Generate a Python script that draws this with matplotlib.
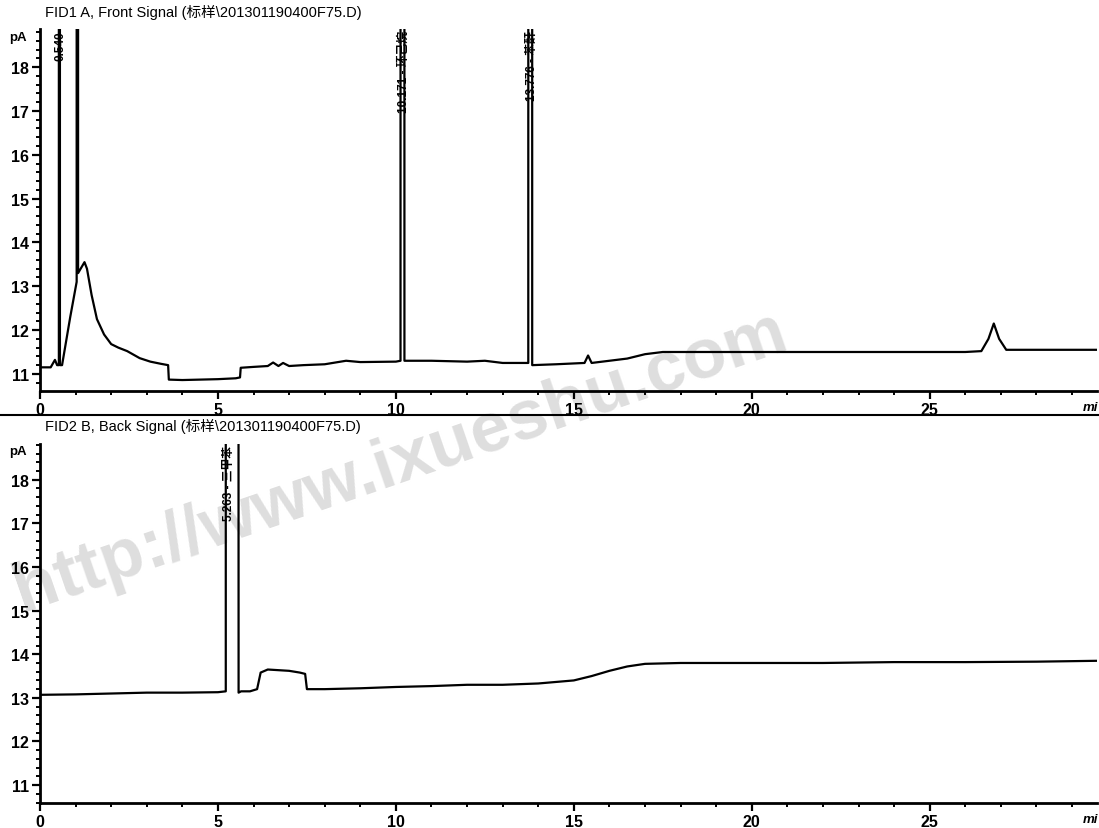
import matplotlib
matplotlib.use("Agg")
import matplotlib.pyplot as plt
from matplotlib.lines import Line2D
from matplotlib.ticker import MultipleLocator

plt.rcParams['font.family'] = ['Liberation Sans', 'Noto Sans CJK SC', 'DejaVu Sans']

# ---------------- data ----------------
title_front = "FID1 A, Front Signal (标样\\201301190400F75.D)"
title_back = "FID2 B, Back Signal (标样\\201301190400F75.D)"

t_front = [0.0, 0.3, 0.42, 0.48, 0.53, 0.54, 0.56, 0.62, 0.85, 1.03, 1.05, 1.07,
           1.25, 1.32, 1.45, 1.6, 1.8, 2.0, 2.2, 2.45, 2.8, 3.1, 3.4, 3.6, 3.62,
           4.0, 4.5, 5.0, 5.5, 5.62, 5.64, 6.0, 6.4, 6.55, 6.7, 6.83, 7.0, 7.4,
           8.0, 8.6, 9.0, 10.0, 10.13, 10.171, 10.24, 10.4, 11.0, 12.0, 12.5,
           13.0, 13.72, 13.776, 13.83, 14.5, 15.3, 15.4, 15.5, 16.0, 16.5, 17.0,
           17.5, 18.0, 20.0, 22.0, 24.0, 26.0, 26.45, 26.65, 26.8, 26.95, 27.15,
           28.0, 29.7]
sig_front = [11.15, 11.15, 11.32, 11.2, 11.2, 1000, 11.2, 11.2, 12.3, 13.1, 1000, 13.3,
             13.55, 13.4, 12.8, 12.25, 11.9, 11.68, 11.6, 11.52, 11.36, 11.28, 11.23, 11.2, 10.87,
             10.86, 10.87, 10.88, 10.9, 10.92, 11.14, 11.16, 11.18, 11.26, 11.18, 11.25, 11.18, 11.2,
             11.22, 11.3, 11.27, 11.28, 11.3, 1000, 11.3, 11.3, 11.3, 11.28, 11.3,
             11.25, 11.25, 1000, 11.2, 11.22, 11.25, 11.42, 11.25, 11.3, 11.35, 11.45,
             11.5, 11.5, 11.5, 11.5, 11.5, 11.5, 11.52, 11.8, 12.15, 11.8, 11.55,
             11.55, 11.55]

t_back = [0.0, 1.0, 2.0, 3.0, 4.0, 5.0, 5.22, 5.263, 5.58, 5.65, 5.9, 6.1, 6.2,
          6.4, 7.0, 7.3, 7.45, 7.5, 8.0, 9.0, 10.0, 11.0, 12.0, 13.0, 14.0, 15.0,
          15.5, 16.0, 16.5, 17.0, 18.0, 20.0, 22.0, 24.0, 26.0, 28.0, 29.7]
sig_back = [13.07, 13.08, 13.1, 13.12, 13.12, 13.13, 13.15, 1000, 13.12, 13.15, 13.15, 13.2, 13.58,
            13.65, 13.62, 13.58, 13.55, 13.2, 13.2, 13.22, 13.25, 13.27, 13.3, 13.3, 13.33, 13.4,
            13.5, 13.62, 13.72, 13.78, 13.8, 13.8, 13.8, 13.82, 13.82, 13.83, 13.85]

labels_front_t = [0.540, 10.171, 13.776]
labels_front = ["0.540", "10.171 - 环己烷", "13.776 - 苯酐"]
labels_back_t = [5.263]
labels_back = ["5.263 - 三甲苯"]

x_major = [0, 5, 10, 15, 20, 25]
y_major = [11, 12, 13, 14, 15, 16, 17, 18]

# ---------------- figure ----------------
W, H = 1099, 829
fig = plt.figure(figsize=(W / 100, H / 100), dpi=100)

def px(x0, y0, x1, y1):
    return [x0 / W, 1 - y1 / H, (x1 - x0) / W, (y1 - y0) / H]

ax1 = fig.add_axes(px(40, 30, 1097, 392))
ax2 = fig.add_axes(px(40, 445, 1097, 804))

def style(ax, ylim):
    ax.set_facecolor('none')
    ax.set_xlim(0, 29.7)
    ax.set_ylim(*ylim)
    for s in ('top', 'right'):
        ax.spines[s].set_visible(False)
    for s in ('left', 'bottom'):
        ax.spines[s].set_linewidth(2)
    ax.set_xticks(x_major)
    ax.set_yticks(y_major)
    ax.xaxis.set_minor_locator(MultipleLocator(1))
    ax.yaxis.set_minor_locator(MultipleLocator(0.2))
    ax.tick_params(axis='both', which='major', length=6, width=1.6,
                   labelsize=11.5, pad=2)
    ax.tick_params(axis='both', which='minor', length=3, width=1.4)
    for lab in ax.get_xticklabels() + ax.get_yticklabels():
        lab.set_fontweight('bold')

style(ax1, (10.61, 18.87))
style(ax2, (10.59, 18.82))

ax1.plot(t_front, sig_front, color='black', lw=1.6)
ax2.plot(t_back, sig_back, color='black', lw=1.6)

for t, s in zip(labels_front_t, labels_front):
    ax1.text(t + 0.05, 18.85, s, rotation=90, ha='center', va='top',
             fontsize=8.5, fontweight='bold')
for t, s in zip(labels_back_t, labels_back):
    ax2.text(t + 0.05, 18.80, s, rotation=90, ha='center', va='top',
             fontsize=8.5, fontweight='bold')

fig.text(45 / W, 1 - 12 / H, title_front, fontsize=10.5, va='center', ha='left')
fig.text(45 / W, 1 - 426 / H, title_back, fontsize=10.5, va='center', ha='left')
fig.text(18 / W, 1 - 38 / H, "pA", fontsize=9.5, fontweight='bold', ha='center', va='center')
fig.text(18 / W, 1 - 452 / H, "pA", fontsize=9.5, fontweight='bold', ha='center', va='center')
fig.text(1090 / W, 1 - 408 / H, "mi", fontsize=9.5, fontweight='bold', style='italic',
         ha='center', va='center')
fig.text(1090 / W, 1 - 820 / H, "mi", fontsize=9.5, fontweight='bold', style='italic',
         ha='center', va='center')

fig.add_artist(Line2D([0, 1], [1 - 416 / H, 1 - 416 / H], color='black', lw=1.5))

# watermark
fig.text(400 / W, 1 - 462 / H, "http://www.ixueshu.com", fontsize=51,
         fontweight='bold', color='#dedede', rotation=19,
         ha='center', va='center', zorder=-1)

fig.savefig("out.png", dpi=100)
